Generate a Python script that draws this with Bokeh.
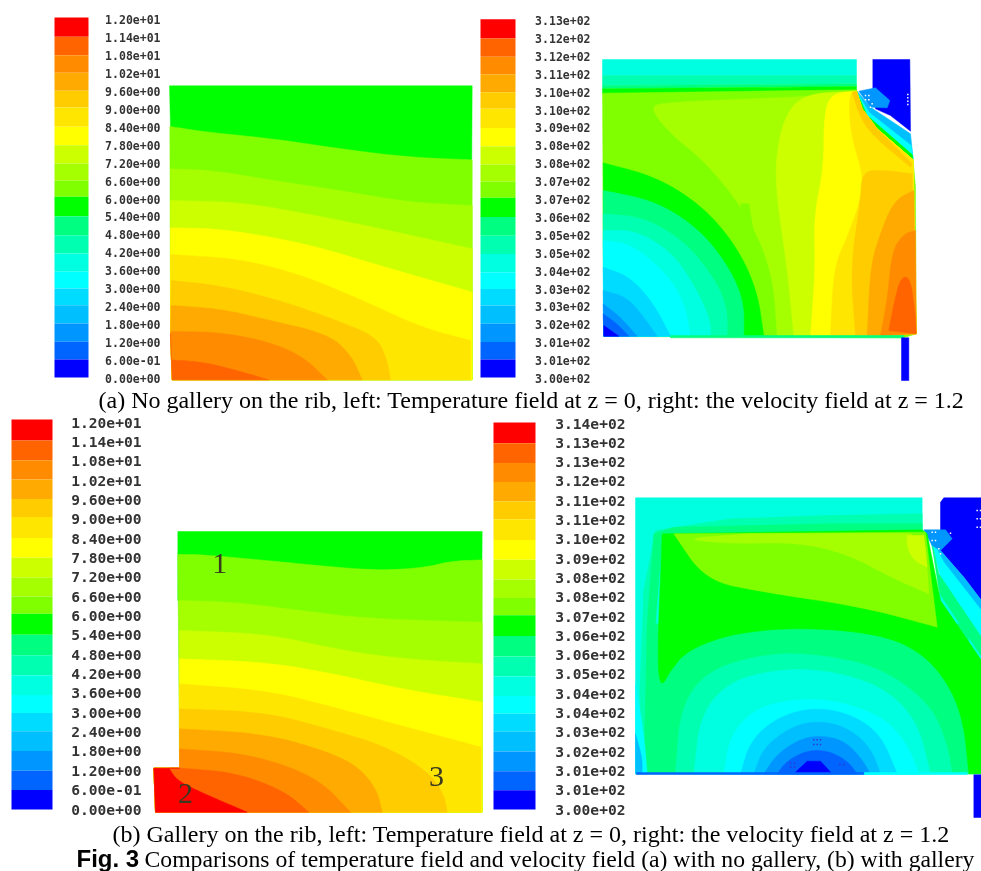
from bokeh.embed import file_html
from bokeh.resources import INLINE
from bokeh.plotting import figure
from bokeh.models import Range1d, ColumnDataSource
from bokeh.core.properties import value

# ---- colour scale (top band to bottom band) ----
PALETTE = ["#ff0000", "#ff6400", "#ff8c00", "#ffaa00", "#ffcc00", "#ffe600", "#ffff00",
           "#ccff00", "#a6ff00", "#80ff00", "#00ff00", "#00ff80", "#00ffb0", "#00ffe0",
           "#00ffff", "#00dcff", "#00bfff", "#0096ff", "#0064ff", "#0000ff"]
BAND_EDGES = [52, 110, 165, 218, 272, 322, 380, 435, 490, 542, 590, 648, 705, 760, 815, 865,
              915, 970, 1025, 1078, 1132]

# ---- tick labels ----
TICKS_TA = ["1.20e+01", "1.14e+01", "1.08e+01", "1.02e+01", "9.60e+00", "9.00e+00", "8.40e+00",
            "7.80e+00", "7.20e+00", "6.60e+00", "6.00e+00", "5.40e+00", "4.80e+00", "4.20e+00",
            "3.60e+00", "3.00e+00", "2.40e+00", "1.80e+00", "1.20e+00", "6.00e-01", "0.00e+00"]
TICKS_VA = ["3.13e+02", "3.12e+02", "3.12e+02", "3.11e+02", "3.10e+02", "3.10e+02", "3.09e+02",
            "3.08e+02", "3.08e+02", "3.07e+02", "3.07e+02", "3.06e+02", "3.05e+02", "3.05e+02",
            "3.04e+02", "3.03e+02", "3.03e+02", "3.02e+02", "3.01e+02", "3.01e+02", "3.00e+02"]
TICKS_VB = ["3.14e+02", "3.13e+02", "3.13e+02", "3.12e+02", "3.11e+02", "3.11e+02", "3.10e+02",
            "3.09e+02", "3.08e+02", "3.08e+02", "3.07e+02", "3.06e+02", "3.06e+02", "3.05e+02",
            "3.04e+02", "3.04e+02", "3.03e+02", "3.02e+02", "3.01e+02", "3.01e+02", "3.00e+02"]

# ---- temperature field (a): outline and contour lines ----
TA_OUTLINE = [(387, 256), (1295, 256), (1290, 1138), (395, 1138), (390, 380)]
TA_BASE = 10
TA_LINES = [
    (9, [(388, 378), (500, 395), (700, 415), (900, 445), (1100, 470), (1295, 478)]),
    (8, [(390, 505), (520, 510), (700, 540), (900, 570), (1100, 605), (1295, 615)]),
    (7, [(390, 600), (600, 605), (800, 640), (1000, 680), (1295, 745)]),
    (6, [(390, 682), (550, 685), (800, 730), (1000, 790), (1295, 875)]),
    (5, [(390, 762), (600, 775), (790, 825), (990, 910), (1140, 980), (1290, 1020)]),
    (4, [(392, 840), (540, 855), (720, 900), (890, 960), (1010, 1010), (1040, 1080), (1050, 1138)]),
    (3, [(392, 915), (540, 925), (690, 960), (860, 1000), (930, 1060), (965, 1138)]),
    (2, [(392, 993), (540, 995), (690, 1025), (790, 1070), (860, 1138)]),
    (1, [(393, 1078), (490, 1085), (590, 1110), (685, 1138)]),
]

# ---- temperature field (b) ----
TB_OUTLINE = [(532, 393), (1445, 393), (1440, 1235), (465, 1235), (460, 1103), (537, 1103), (537, 600), (532, 600)]
TB_BASE = 10
TB_LINES = [
    (9, [(532, 462), (600, 462), (800, 480), (1000, 500), (1150, 510), (1280, 500), (1350, 482), (1445, 478)]),
    (8, [(537, 600), (700, 605), (900, 630), (1100, 655), (1445, 665)]),
    (7, [(537, 690), (800, 700), (1000, 745), (1200, 775), (1445, 790)]),
    (6, [(537, 775), (800, 785), (1000, 820), (1200, 865), (1445, 905)]),
    (5, [(537, 850), (800, 870), (1000, 920), (1200, 975), (1442, 1040)]),
    (4, [(537, 925), (800, 935), (1000, 990), (1150, 1035), (1280, 1110), (1330, 1180), (1340, 1235)]),
    (3, [(537, 985), (800, 1000), (1000, 1060), (1080, 1105), (1130, 1170), (1145, 1235)]),
    (2, [(537, 1045), (750, 1060), (950, 1130), (1050, 1235)]),
    (1, [(537, 1103), (700, 1115), (850, 1170), (925, 1235)]),
    (0, [(505, 1103), (530, 1140), (600, 1175), (740, 1235)]),
]
TB_MARKS = ["1", "2", "3"]
TB_MARK_X = [658, 555, 1308]
TB_MARK_Y = [490, 1180, 1128]

# ---- velocity field (a) ----
VA_SOLID = [
    (19, [(1207, 177), (1318, 177), (1320, 392), (1260, 345), (1215, 325), (1207, 270)]),
    (16, [(1160, 272), (1200, 320), (1320, 400), (1328, 475), (1220, 385), (1175, 325)]),
    (14, [(1160, 275), (1195, 335), (1322, 435), (1328, 475), (1220, 385), (1175, 325)]),
    (10, [(1158, 272), (1190, 345), (1325, 462), (1328, 480), (1220, 385), (1175, 325)]),
    (17, [(1165, 272), (1215, 262), (1258, 300), (1250, 322), (1200, 320)]),
    (13, [(396, 177), (1158, 177), (1158, 225), (396, 225)]),
    (12, [(396, 225), (1158, 225), (1158, 250), (396, 255)]),
    (11, [(396, 255), (1158, 250), (1158, 258), (396, 265)]),
    (10, [(396, 265), (1158, 258), (1158, 272), (396, 280)]),
    (9, [(396, 278), (1158, 268), (1175, 325), (1220, 385), (1328, 478), (1335, 560), (1337, 1000), (1300, 1012), (400, 1008)]),
]
VA_EDGE = [(1175, 325), (1220, 385), (1328, 478), (1337, 1000)]
VA_BANDS = [
    (8, [(920, 1005), (910, 850), (870, 720), (800, 600), (700, 480), (600, 400), (540, 325), (570, 305), (1000, 290), (1158, 272)], VA_EDGE),
    (7, [(970, 1005), (950, 800), (920, 600), (915, 480), (940, 350), (1000, 280), (1158, 272)], VA_EDGE),
    (6, [(1020, 1005), (1035, 800), (1030, 650), (1060, 500), (1060, 350), (1080, 280), (1158, 272)], VA_EDGE),
    (5, [(1080, 1005), (1090, 800), (1130, 710), (1170, 600), (1180, 530), (1140, 400), (1135, 280), (1158, 272)], VA_EDGE),
    (4, [(1155, 1005), (1140, 800), (1170, 600), (1175, 510), (1250, 510), (1325, 520)], [(1337, 1000)]),
    (4, [(1145, 275), (1165, 340), (1200, 400), (1320, 500)], [(1325, 490), (1220, 385), (1175, 325), (1158, 272)]),
    (3, [(1190, 1005), (1200, 800), (1225, 710), (1270, 600), (1330, 570)], [(1337, 1000)]),
    (2, [(1230, 1005), (1250, 900), (1265, 750), (1300, 700), (1335, 690)], [(1337, 1000)]),
    (1, [(1255, 990), (1270, 910), (1290, 830), (1320, 830), (1335, 950)], [(1337, 1000)]),
]
VA_ARCS = [
    (10, [(398, 487), (560, 530), (700, 620), (800, 740), (860, 870), (880, 1007)]),
    (11, [(398, 570), (550, 600), (680, 680), (770, 790), (820, 900), (820, 1007)]),
    (12, [(398, 640), (520, 650), (640, 720), (730, 830), (770, 920), (770, 1007)]),
    (13, [(398, 690), (500, 690), (610, 760), (680, 870), (720, 960), (720, 1007)]),
    (14, [(398, 720), (480, 730), (580, 810), (640, 900), (660, 1007)]),
    (15, [(398, 800), (480, 830), (550, 910), (600, 1007)]),
    (16, [(398, 870), (470, 890), (520, 950), (560, 1007)]),
    (17, [(398, 910), (450, 950), (500, 1007)]),
    (18, [(398, 940), (440, 970), (475, 1007)]),
    (19, [(400, 975), (445, 1007)]),
]
VA_LAST = [
    (9, [(810, 610), (835, 610), (850, 700), (830, 712)]),
    (11, [(600, 1005), (1300, 1005), (1300, 1012), (600, 1012)]),
    (19, [(1293, 1012), (1315, 1012), (1315, 1140), (1293, 1140)]),
]
VA_DOTS_X = [1312, 1312, 1312, 1312, 1185, 1195, 1185, 1195, 1205, 1200]
VA_DOTS_Y = [282, 292, 302, 312, 285, 285, 298, 298, 310, 320]

# ---- velocity field (b) ----
VB_SOLID = [
    (19, [(930, 35), (940, 22), (1053, 22), (1053, 330), (1000, 260), (930, 180)]),
    (16, [(885, 122), (930, 180), (1000, 260), (1053, 330), (1053, 420), (960, 270)]),
    (14, [(895, 130), (940, 215), (1053, 360), (1053, 440), (1000, 370), (930, 260)]),
    (11, [(900, 135), (925, 250), (1053, 440), (1053, 510), (930, 330)]),
    (17, [(880, 118), (945, 118), (965, 145), (930, 180), (905, 165)]),
    (13, [(15, 22), (875, 22), (875, 118), (920, 300), (1053, 500), (1053, 850), (15, 850)]),
    (12, [(875, 70), (875, 118), (100, 125), (80, 300), (60, 500), (50, 850), (30, 850), (28, 600), (40, 300), (75, 120), (300, 85), (600, 75)]),
    (11, [(875, 100), (875, 120), (95, 130), (75, 400), (60, 850), (40, 850), (50, 400), (70, 130), (130, 110), (600, 100)]),
    (11, [(60, 850), (75, 400), (1010, 400), (1053, 850)]),
]
VB_BANDS = [
    (10, [(1015, 850), (1000, 700), (960, 590), (880, 490), (750, 430), (500, 410), (300, 430), (170, 480), (120, 540), (90, 595), (80, 500), (95, 130)],
     [(875, 118), (890, 130), (930, 330), (1053, 510), (1053, 850)]),
    (9, [(920, 410), (700, 350), (400, 305), (225, 270), (130, 130)], [(885, 125)]),
    (8, [(895, 310), (780, 260), (650, 190), (500, 155), (300, 160), (150, 145), (350, 130)], [(840, 128), (885, 170)]),
    (7, [(890, 230), (850, 210), (830, 170), (830, 135)], [(880, 135)]),
    (12, [(135, 850), (150, 650), (230, 540), (400, 490), (560, 490), (750, 530), (900, 640), (950, 760), (965, 850)], []),
    (13, [(190, 850), (210, 670), (300, 570), (450, 535), (600, 540), (760, 590), (860, 690), (900, 850)], []),
    (14, [(280, 850), (300, 730), (380, 650), (500, 625), (620, 630), (760, 680), (830, 760), (865, 850)], []),
    (15, [(330, 850), (360, 750), (440, 680), (550, 650), (660, 670), (750, 730), (800, 850)], []),
    (16, [(370, 850), (400, 770), (480, 710), (560, 690), (650, 710), (720, 770), (750, 850)], []),
    (17, [(400, 850), (440, 790), (510, 745), (570, 735), (640, 750), (690, 800), (720, 850)], []),
    (18, [(440, 850), (470, 810), (530, 780), (590, 780), (650, 810), (680, 850)], []),
    (14, [(15, 580), (40, 730), (50, 850)], [(15, 850)]),
    (16, [(15, 730), (35, 800), (35, 850)], [(15, 850)]),
]
VB_LAST = [
    (19, [(490, 850), (530, 812), (570, 812), (605, 850)]),
    (14, [(700, 846), (1010, 846), (1010, 852), (700, 852)]),
    (18, [(18, 846), (700, 846), (700, 852), (18, 852)]),
    (19, [(1030, 853), (1053, 853), (1053, 981), (1030, 981)]),
]
VB_DOTS_X = [1040, 1050, 1040, 1050, 1040, 1050, 905, 915, 905, 915, 925, 930, 960]
VB_DOTS_Y = [60, 60, 85, 85, 110, 110, 125, 125, 150, 150, 175, 190, 128]
VB_DARK_X = [550, 560, 570, 550, 560, 570, 480, 492, 480, 492, 628, 640]
VB_DARK_Y = [748, 748, 748, 762, 762, 762, 818, 818, 830, 830, 822, 822]

CAPTION_A = "(a) No gallery on the rib, left: Temperature field at z = 0, right: the velocity field at z = 1.2"
CAPTION_B = "(b) Gallery on the rib, left: Temperature field at z = 0, right: the velocity field at z = 1.2"
CAPTION_C_BOLD = "Fig. 3"
CAPTION_C = "Comparisons of temperature field and velocity field (a) with no gallery, (b) with gallery"

p = figure(width=981, height=871, x_range=Range1d(0, 981), y_range=Range1d(871, 0),
           output_backend="svg", toolbar_location=None, min_border=0)
p.axis.visible = False
p.grid.visible = False
p.outline_line_color = None
p.background_fill_color = "white"
p.border_fill_color = "white"
p.styles = {"filter": "blur(0.5px)"}


def smooth(points, rounds=3):
    for _ in range(rounds):
        out = [points[0]]
        for (a, b), (c, d) in zip(points, points[1:]):
            out.append((0.75 * a + 0.25 * c, 0.75 * b + 0.25 * d))
            out.append((0.25 * a + 0.75 * c, 0.25 * b + 0.75 * d))
        out.append(points[-1])
        points = out
    return points


def paint(idx, points, x0, y0):
    xs = [x0 + a / 3 for a, _ in points]
    ys = [y0 + b / 3 for _, b in points]
    p.patch(xs, ys, fill_color=PALETTE[idx], line_color=PALETTE[idx], line_width=0.5)


def colorbar(left, right, top, bottom):
    scale = (bottom - top) / (BAND_EDGES[-1] - BAND_EDGES[0])
    y = [top + (e - BAND_EDGES[0]) * scale for e in BAND_EDGES]
    p.quad(left=left, right=right, top=y[:-1], bottom=y[1:], fill_color=PALETTE, line_color=None)


def ticks(labels, x, top, bottom, size):
    n = len(labels)
    ys = [top + i * (bottom - top) / (n - 1) for i in range(n)]
    src = ColumnDataSource(dict(x=[x] * n, y=ys, t=labels))
    p.text("x", "y", text="t", source=src, text_font=value("DejaVu Sans Mono"), text_font_size=size,
           text_font_style="bold", text_align="right", text_baseline="middle", text_color="#333333")


def temperature(outline, base, lines, x0, y0, bottom, foot):
    paint(base, outline, x0, y0)
    for idx, line in lines:
        end = line[-1]
        closing = [] if end[1] == bottom else [(end[0], bottom)]
        paint(idx, smooth(line) + closing + foot, x0, y0)


def dots(xs, ys, x0, y0, color):
    p.scatter([x0 + a / 3 for a in xs], [y0 + b / 3 for b in ys], marker="square", size=1.5,
              fill_color=color, line_color=None)


# colour bars and labels
colorbar(54, 88, 17, 377)
colorbar(480, 515, 18.7, 377)
colorbar(11, 52, 419, 809)
colorbar(493, 535, 422, 809)
ticks(TICKS_TA, 160, 19, 378, "11.5px")
ticks(TICKS_VA, 590, 20, 378, "11.5px")
ticks(TICKS_TA, 141, 422, 809, "14.6px")
ticks(TICKS_VB, 625, 423, 809, "14.6px")

# temperature fields
temperature(TA_OUTLINE, TA_BASE, TA_LINES, 40, 0, 1138, [(395, 1138), (390, 1000)])
temperature(TB_OUTLINE, TB_BASE, TB_LINES, 0, 400, 1235, [(465, 1235), (460, 1103), (537, 1103)])

# velocity field (a)
for idx, pts in VA_SOLID:
    paint(idx, pts, 470, 0)
for idx, curve, closure in VA_BANDS:
    paint(idx, smooth(curve) + closure, 470, 0)
for idx, curve in VA_ARCS:
    paint(idx, smooth(curve) + [(400, 1007)], 470, 0)
for idx, pts in VA_LAST:
    paint(idx, pts, 470, 0)
dots(VA_DOTS_X, VA_DOTS_Y, 470, 0, "white")

# velocity field (b)
for idx, pts in VB_SOLID:
    paint(idx, pts, 630, 490)
for idx, curve, closure in VB_BANDS:
    paint(idx, smooth(curve) + closure, 630, 490)
for idx, pts in VB_LAST:
    paint(idx, pts, 630, 490)
dots(VB_DOTS_X, VB_DOTS_Y, 630, 490, "white")
dots(VB_DARK_X, VB_DARK_Y, 630, 490, "#2a3ad0")

# point labels in panel (b)
p.text([x / 3 for x in TB_MARK_X], [400 + y / 3 for y in TB_MARK_Y], text=TB_MARKS,
       text_font=value("Liberation Serif"), text_font_size="30px", text_align="center",
       text_baseline="middle", text_color="#3a3a20")

# captions
p.text([98], [399], text=[CAPTION_A], text_font=value("Liberation Serif"), text_font_size="24px",
       text_baseline="middle", text_color="black")
p.text([112], [833], text=[CAPTION_B], text_font=value("Liberation Serif"), text_font_size="24px",
       text_baseline="middle", text_color="black")
p.text([76], [858], text=[CAPTION_C_BOLD], text_font=value("Liberation Sans"), text_font_size="24px",
       text_font_style="bold", text_baseline="middle", text_color="black")
p.text([144], [858], text=[CAPTION_C], text_font=value("Liberation Serif"), text_font_size="23.7px",
       text_baseline="middle", text_color="black")

open("out.html", "w").write(file_html(p, INLINE))
